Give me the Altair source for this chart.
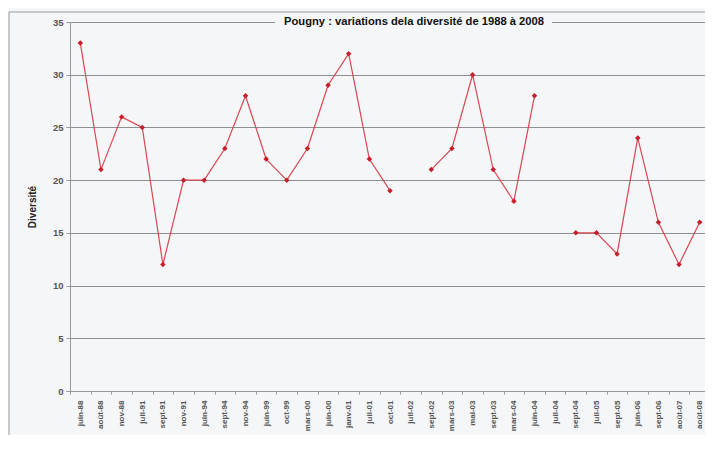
import altair as alt
import pandas as pd

labels = ["juin-88", "août-88", "nov-88", "juil-91", "sept-91", "nov-91", "juin-94",
          "sept-94", "nov-94", "juin-99", "oct-99", "mars-00", "juin-00", "janv-01",
          "juil-01", "oct-01", "juil-02", "sept-02", "mars-03", "mai-03", "sept-03",
          "mars-04", "juin-04", "juil-04", "sept-04", "juil-05", "sept-05", "juin-06",
          "sept-06", "août-07", "août-08"]
values = [33, 21, 26, 25, 12, 20, 20, 23, 28, 22, 20, 23, 29, 32, 22, 19, None,
          21, 23, 30, 21, 18, 28, None, 15, 15, 13, 24, 16, 12, 16]
y_ticks = [0, 5, 10, 15, 20, 25, 30, 35]
title_text = "Pougny : variations dela diversité de 1988 à 2008"

df = pd.DataFrame({"date": labels, "div": values})

W, H = 635, 369
BG = "#f4f6f8"
FONT = "Liberation Sans"

x_enc = alt.X("date:N", sort=labels, bandPosition=0.5,
              scale=alt.Scale(type="band", domain=labels, paddingInner=0, paddingOuter=0,
                              range=[0, 640]),
              axis=alt.Axis(title=None, labelAngle=-90, tickBand="extent", grid=False,
                            labelFont=FONT, labelFontSize=8, labelFontWeight="bold",
                            labelColor="#555", labelPadding=6, tickSize=3,
                            tickColor="#999", domainColor="#999"))
y_enc = alt.Y("div:Q", scale=alt.Scale(domain=[0, 35]),
              axis=alt.Axis(values=y_ticks, title="Diversité", titleFont=FONT,
                            titleFontSize=10, titleFontWeight="bold", titleColor="#222",
                            titlePadding=15, labelFont=FONT, labelFontSize=9.5,
                            labelFontWeight="bold", labelColor="#555", labelPadding=3,
                            tickSize=4, tickColor="#999", domainColor="#999", grid=True,
                            gridColor="#8f8f8f", gridWidth=1))

base = alt.Chart(df)
line = base.mark_line(color="#d94753", strokeWidth=1.2,
                      invalid="break-paths-show-domains").encode(x=x_enc, y=y_enc)
pts = base.mark_point(shape="diamond", filled=True, color="#c81e2a", size=30, opacity=1,
                      invalid="break-paths-show-domains").encode(x=x_enc, y=y_enc)

one = pd.DataFrame({"t": [title_text]})
mask = alt.Chart(one).mark_rect(fill=BG).encode(
    x=alt.value(205), x2=alt.value(482), y=alt.value(-6), y2=alt.value(6))
ttl = alt.Chart(one).mark_text(font=FONT, fontSize=11.2, fontWeight="bold", color="#111",
                               align="center", baseline="middle").encode(
    text="t:N", x=alt.value(344), y=alt.value(0))
frame_top = alt.Chart(one).mark_rule(color="#999", strokeWidth=1).encode(
    x=alt.value(-61), x2=alt.value(W + 20), y=alt.value(-10))
frame_left = alt.Chart(one).mark_rule(color="#999", strokeWidth=1).encode(
    x=alt.value(-61), y=alt.value(-10), y2=alt.value(H + 80))

chart = alt.layer(line, pts, mask, ttl, frame_top, frame_left).properties(
    width=W, height=H,
    autosize=alt.AutoSizeParams(type="none"),
    padding={"left": 62, "top": 14, "right": 0, "bottom": 44},
    background=BG,
).configure_view(stroke=None)

chart.save("out.html", embed_options={"renderer": "svg", "actions": False})
